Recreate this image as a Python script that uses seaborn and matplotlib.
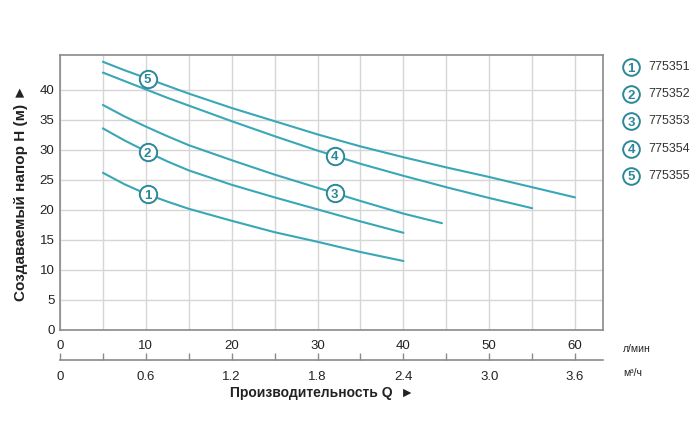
import numpy as np
import pandas as pd
import matplotlib
matplotlib.use("Agg")
import matplotlib.pyplot as plt
import seaborn as sns

# ---- data (flow in l/min, head in m) ----
q1 = [5, 7.5, 10, 12.5, 15, 20, 25, 30, 35, 40]
h1 = [26.2, 24.3, 22.7, 21.4, 20.2, 18.2, 16.3, 14.7, 13.0, 11.5]
q2 = [5, 7.5, 10, 12.5, 15, 20, 25, 30, 35, 40]
h2 = [33.6, 31.6, 29.8, 28.1, 26.6, 24.2, 22.1, 20.1, 18.1, 16.2]
q3 = [5, 7.5, 10, 12.5, 15, 20, 25, 30, 35, 40, 44.5]
h3 = [37.5, 35.6, 33.9, 32.3, 30.8, 28.3, 25.9, 23.7, 21.5, 19.4, 17.8]
q4 = [5, 7.5, 10, 12.5, 15, 20, 25, 30, 35, 40, 45, 50, 55]
h4 = [42.9, 41.5, 40.1, 38.7, 37.4, 34.8, 32.3, 29.9, 27.7, 25.7, 23.8, 22.0, 20.3]
q5 = [5, 7.5, 10, 12.5, 15, 20, 25, 30, 35, 40, 45, 50, 55, 60]
h5 = [44.7, 43.3, 42.0, 40.7, 39.4, 37.0, 34.8, 32.6, 30.6, 28.8, 27.1, 25.5, 23.8, 22.1]

series_ids = ["1", "2", "3", "4", "5"]
models = ["775351", "775352", "775353", "775354", "775355"]
label_q = [10.2, 10.2, 32.0, 32.0, 10.2]   # x position of the circled number on each curve

x_ticks = [0, 10, 20, 30, 40, 50, 60]
m3h_ticks = [0, 0.6, 1.2, 1.8, 2.4, 3.0, 3.6]
y_ticks = [0, 5, 10, 15, 20, 25, 30, 35, 40]

qs = [q1, q2, q3, q4, q5]
hs = [h1, h2, h3, h4, h5]
df = pd.concat([pd.DataFrame({"Q": q, "H": h, "id": s}) for q, h, s in zip(qs, hs, series_ids)])

sns.set_theme(style="white")
plt.rcParams["font.family"] = ["Liberation Sans", "DejaVu Sans"]

TEAL = "#3aa7b6"
TEAL_D = "#2c8798"
TXT = "#222222"

fig = plt.figure(figsize=(7.0, 4.33), dpi=100)
W, H = 700, 433
ax = fig.add_axes([60 / W, (H - 330) / H, (603 - 60) / W, (330 - 55) / H])

sns.lineplot(data=df, x="Q", y="H", units="id", estimator=None, color=TEAL,
             lw=1.5, ax=ax, legend=False, sort=False)

ax.set_xlim(0, 63.26)
ax.set_ylim(0, 45.83)
ax.set_xticks(np.arange(0, 65, 5))
ax.set_yticks(y_ticks)
ax.grid(True, color="#d6d6d6", lw=1.0)
ax.set_axisbelow(True)
ax.set_xticklabels([str(v) if v in x_ticks else "" for v in np.arange(0, 65, 5)])
ax.set_yticklabels([str(v) for v in y_ticks])
ax.tick_params(axis="both", length=0, labelsize=9.5, colors=TXT)
ax.tick_params(axis="x", pad=7)
ax.tick_params(axis="y", pad=4)
for s in ax.spines.values():
    s.set_color("#8a8a8a")
    s.set_linewidth(1.2)
ax.set_xlabel("")
ax.set_ylabel("Создаваемый напор H (м) ►", fontsize=11, fontweight="bold",
              color=TXT, labelpad=8)

# circled curve numbers
for q, h, lq, sid in zip(qs, hs, label_q, series_ids):
    ly = np.interp(lq, q, h)
    ax.plot([lq], [ly], marker="o", ms=12.5, mfc="white", mec=TEAL_D, mew=1.4,
            zorder=5, clip_on=False)
    ax.text(lq, ly, sid, ha="center", va="center_baseline", fontsize=9.5, fontweight="bold",
            color=TEAL_D, zorder=6)

# secondary axis in m3/h
sec = ax.secondary_xaxis((330 - 360) / (330 - 55),
                         functions=(lambda x: x * 0.06, lambda x: x / 0.06))
sec_vals = np.round(np.arange(0, 3.9, 0.3), 2)
sec.set_xticks(sec_vals)
sec.set_xticklabels([("%.1f" % v if v != 0 else "0") if any(abs(v - t) < 1e-6 for t in m3h_ticks) else ""
                     for v in sec_vals])
sec.tick_params(axis="x", direction="in", length=5, width=1, colors="#8a8a8a",
                labelcolor=TXT, labelsize=9.5, pad=8)
sec.spines["bottom"].set_color("#8a8a8a")
sec.spines["bottom"].set_linewidth(1.2)

fig.text(623 / W, 1 - 349 / H, "л/мин", fontsize=7.5, color=TXT, va="center", ha="left")
fig.text(623 / W, 1 - 373 / H, "м³/ч", fontsize=7.5, color=TXT, va="center", ha="left")
fig.text(322 / W, 1 - 393 / H, "Производительность Q  ►", fontsize=10, fontweight="bold",
         color=TXT, va="center", ha="center")

# legend
for i, (sid, m) in enumerate(zip(series_ids, models)):
    yy = 1 - (67 + 27.2 * i) / H
    fig.lines.append(plt.Line2D([631 / W], [yy], marker="o", ms=12, mfc="white",
                                mec=TEAL_D, mew=1.4, transform=fig.transFigure))
    fig.text(631 / W, yy, sid, ha="center", va="center_baseline", fontsize=9.5,
             fontweight="bold", color=TEAL_D)
    fig.text(648 / W, yy, m, ha="left", va="center", fontsize=9, color="#333333")

fig.savefig("out.png", dpi=100)
